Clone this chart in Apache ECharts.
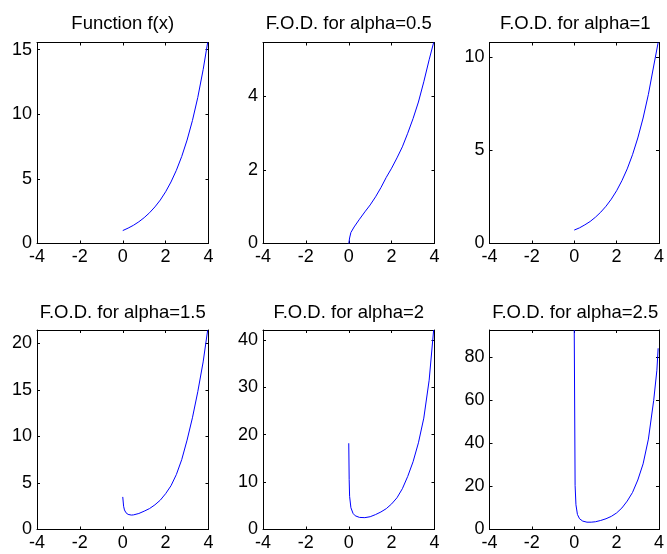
<!DOCTYPE html>
<html><head><meta charset="utf-8">
<script src="https://cdn.jsdelivr.net/npm/echarts@6/dist/echarts.min.js"></script>
<style>html,body{margin:0;padding:0;background:#fff}#c{width:667px;height:554px}</style>
</head><body><div id="c"></div>
<script>
const titles = ['Function f(x)', 'F.O.D. for alpha=0.5', 'F.O.D. for alpha=1',
                'F.O.D. for alpha=1.5', 'F.O.D. for alpha=2', 'F.O.D. for alpha=2.5'];
const xTicks = [-4, -2, 0, 2, 4];

const x1 = [0,0.25,0.5,0.75,1,1.25,1.5,1.75,2,2.25,2.5,2.75,3,3.25,3.5,3.75,3.96];
const y1 = [1.0,1.19,1.41,1.68,2.0,2.38,2.83,3.36,4.0,4.76,5.66,6.73,8.0,9.51,11.3,13.45,15.55];

const x2 = [0,0.04,0.1,0.25,0.5,0.75,1,1.25,1.5,1.75,2,2.25,2.5,2.75,3,3.25,3.5,3.75,3.96];
const y2 = [0,0.15,0.3,0.45,0.66,0.86,1.05,1.27,1.52,1.8,2.05,2.33,2.63,3.0,3.4,3.85,4.4,5.0,5.47];

const x3 = [0,0.25,0.5,0.75,1,1.25,1.5,1.75,2,2.25,2.5,2.75,3,3.25,3.5,3.75,3.96];
const y3 = [0.72,0.84,1.0,1.18,1.41,1.68,2.0,2.38,2.83,3.37,4.0,4.76,5.66,6.73,8.0,9.52,10.78];

const x4 = [0,0.04,0.08,0.15,0.25,0.4,0.5,0.75,1,1.25,1.5,1.75,2,2.25,2.5,2.75,3,3.25,3.5,3.75,3.96];
const y4 = [3.5,2.5,2.1,1.8,1.62,1.55,1.57,1.72,1.97,2.25,2.65,3.15,3.85,4.7,5.9,7.5,9.6,12.0,14.8,18.0,21.4];

const x5 = [0,0.02,0.04,0.1,0.2,0.3,0.5,0.75,1,1.25,1.5,1.75,2,2.25,2.5,2.75,3,3.25,3.5,3.75,3.96];
const y5 = [18.2,10.5,7.0,4.6,3.4,2.9,2.55,2.5,2.7,3.15,3.7,4.4,5.4,6.7,8.6,11.2,14.3,18.3,23.5,31.5,42.1];

const x6 = [0,0.04,0.08,0.15,0.25,0.4,0.6,0.8,1,1.25,1.5,1.75,2,2.25,2.5,2.75,3,3.25,3.5,3.75,3.9,3.96];
const y6 = [92.7,20.5,11.5,7.0,5.0,3.9,3.4,3.4,3.6,4.2,5.0,6.1,7.7,10.0,13.2,17.2,23,30.5,42,60,74,84.2];

const yMax = [15.55, 5.47, 10.78, 21.43, 42.1, 92.7];
const yInterval = [5, 2, 5, 5, 10, 20];
const yTicks = [[0,5,10,15],[0,2,4],[0,5,10],[0,5,10,15,20],[0,10,20,30,40],[0,20,40,60,80]];

const xs = [x1,x2,x3,x4,x5,x6];
const ys = [y1,y2,y3,y4,y5,y6];

const FONT = 'Liberation Sans';
const lefts = [37, 263, 489.5];
const tops = [42.5, 330];
const W = 171.5;
const H = [201, 199.5];
const titleTops = [14, 303];

const grid = [], xAxis = [], yAxis = [], series = [], title = [];
for (let i = 0; i < 6; i++) {
  const r = Math.floor(i / 3), c = i % 3;
  grid.push({left: lefts[c], top: tops[r], width: W, height: H[r], containLabel: false});
  title.push({text: titles[i], left: lefts[c] + W / 2, top: titleTops[r], textAlign: 'center', padding: 0,
    textStyle: {fontSize: 18.5, fontWeight: 'normal', color: '#000', fontFamily: FONT}});
  const line = {show: true, onZero: false, lineStyle: {color: '#000', width: 1}};
  const tick = (vals) => ({show: true, inside: true, length: 3, customValues: vals, lineStyle: {color: '#000', width: 1}});
  const lab = (vals, m) => ({show: true, customValues: vals, color: '#000', fontSize: 18, fontFamily: FONT, margin: m});
  xAxis.push({type: 'value', gridIndex: i, position: 'bottom', min: -4, max: 4, interval: 2,
    axisLine: line, axisTick: tick(xTicks), axisLabel: lab(xTicks, 5), splitLine: {show: false}});
  xAxis.push({type: 'value', gridIndex: i, position: 'top', min: -4, max: 4, interval: 2,
    axisLine: line, axisTick: tick(xTicks), axisLabel: {show: false}, splitLine: {show: false}});
  yAxis.push({type: 'value', gridIndex: i, position: 'left', min: 0, max: yMax[i], interval: yInterval[i],
    axisLine: line, axisTick: tick(yTicks[i]), axisLabel: lab(yTicks[i], 5), splitLine: {show: false}});
  yAxis.push({type: 'value', gridIndex: i, position: 'right', min: 0, max: yMax[i], interval: yInterval[i],
    axisLine: line, axisTick: tick(yTicks[i]), axisLabel: {show: false}, splitLine: {show: false}});
  series.push({type: 'line', xAxisIndex: 2 * i, yAxisIndex: 2 * i, showSymbol: false, symbol: 'none',
    data: xs[i].map((x, k) => [x, ys[i][k]]), lineStyle: {color: '#0000ff', width: 1}, animation: false, silent: true});
}

const chart = echarts.init(document.getElementById('c'), null, {renderer: 'canvas'});
chart.setOption({animation: false, backgroundColor: '#fff', title, grid, xAxis, yAxis, series});
</script></body></html>
